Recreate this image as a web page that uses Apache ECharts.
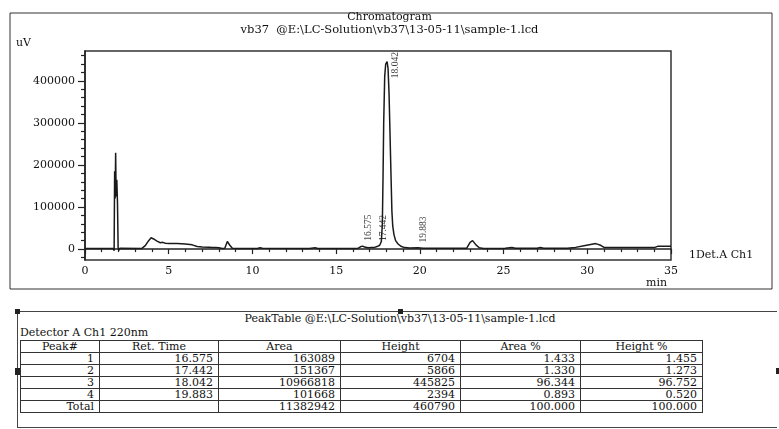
<!DOCTYPE html>
<html>
<head>
<meta charset="utf-8">
<script src="https://cdn.jsdelivr.net/npm/echarts@6/dist/echarts.min.js"></script>
<style>
  html, body { margin: 0; padding: 0; background: #fff; }
  #page { position: relative; width: 779px; height: 429px; overflow: hidden; color: #111; font-family: 'DejaVu Serif', serif; }
  #chart { position: absolute; left: 0; top: 0; width: 779px; height: 300px; }
  #tableBox { position: absolute; left: 17px; top: 311px; width: 759px; height: 115px;
    border-top: 1.5px solid #444; border-left: 1.5px solid #444; border-bottom: 1.5px solid #444; }
  #tableTitle { position: absolute; left: 0; width: 800px; top: 312px; text-align: center; font-size: 11px; line-height: 13px; }
  #detector { position: absolute; left: 20px; top: 326px; font-size: 11px; line-height: 13px; }
  #ptable { position: absolute; left: 20px; top: 340px; width: 682px; border-collapse: collapse; table-layout: fixed; font-size: 11px; }
  #ptable th, #ptable td { border: 1.5px solid #333; padding: 0 5px 0 0; line-height: 11px; height: 11px; text-align: right; font-weight: normal; white-space: nowrap; }
  #ptable th { text-align: center; padding: 0; height: 9px; }
  .handle { position: absolute; width: 5px; height: 5px; background: #222; }
</style>
</head>
<body>
<div id="page">
  <div id="chart"></div>
  <div id="tableBox"></div>
  <div class="handle" style="left:15px;top:309px"></div>
  <div class="handle" style="left:398px;top:309px"></div>
  <div class="handle" style="left:15px;top:368px;width:6px;height:7px"></div>
  <div class="handle" style="left:776px;top:368px;width:3px;height:6px"></div>
  <div id="tableTitle"></div>
  <div id="detector">Detector A Ch1 220nm</div>
  <table id="ptable">
    <colgroup>
      <col style="width:79px"><col style="width:119px"><col style="width:122px">
      <col style="width:120px"><col style="width:120px"><col style="width:122px">
    </colgroup>
    <thead><tr id="headRow"></tr></thead>
    <tbody id="bodyRows"></tbody>
  </table>
</div>
<script>
// chromatogram trace (time in min, signal in uV)
const timeMin = [
  0.00, 1.70, 1.74, 1.77, 1.80, 1.83, 1.86, 1.90, 1.94, 1.98, 2.02, 2.08, 2.15,
  3.40, 3.60, 3.80, 3.95, 4.10, 4.30, 4.50, 4.65, 4.80, 5.00, 5.50, 6.00, 6.40, 6.70,
  7.00, 7.40, 7.60, 7.80, 8.00, 8.20, 8.35, 8.50, 8.56, 8.65, 8.80, 9.00,
  10.30, 10.45, 10.60, 10.70, 13.20, 13.30, 13.40, 13.75, 13.90,
  16.30, 16.45, 16.575, 16.70, 16.90, 17.10, 17.30, 17.442, 17.60, 17.70, 17.76, 17.80,
  17.84, 17.90, 17.96, 18.042, 18.10, 18.16, 18.22, 18.28, 18.33, 18.38, 18.45, 18.55,
  18.70, 18.90, 19.10, 19.40, 19.883, 20.20, 22.80, 23.00, 23.15, 23.35, 23.55, 23.80,
  24.80, 24.90, 25.10, 25.50, 25.70, 27.00, 27.20, 27.40, 28.80, 29.30, 29.80, 30.20,
  30.50, 30.80, 31.00, 31.50, 34.00, 34.20, 35.00
];
const signalUv = [
  1500, 1500, -4000, 185000, 120000, 229000, 125000, 165000, 110000, 2000, -3000, 2000, 1500,
  1500, 8000, 20000, 27000, 24000, 19000, 15000, 16000, 14000, 13500, 13000, 12000, 10000, 6000,
  5000, 4500, 3500, 4000, 3000, 1500, 2000, 18000, 20000, 9000, 2000, 1500,
  1500, 3000, 2000, 1500, 1500, 3000, 1500, 3000, 1500,
  1500, 5500, 7000, 5000, 3000, 3500, 4000, 5900, 9000, 18000, 60000, 170000,
  300000, 410000, 440000, 446000, 430000, 370000, 270000, 170000, 90000, 55000, 35000, 20000,
  12000, 6000, 3500, 2500, 3000, 2000, 2000, 16000, 20000, 10000, 3000, 1500,
  1500, 3000, 2000, 3500, 2000, 2000, 3500, 2000, 2000, 4000, 8000, 11000,
  13000, 9000, 4000, 3500, 3500, 6500, 6500
];

// peak table
const peakNo = [1, 2, 3, 4];
const peakRetTime = [16.575, 17.442, 18.042, 19.883];
const peakArea = [163089, 151367, 10966818, 101668];
const peakHeight = [6704, 5866, 445825, 2394];
const peakAreaPct = [1.433, 1.330, 96.344, 0.893];
const peakHeightPct = [1.455, 1.273, 96.752, 0.520];
const totalArea = 11382942;
const totalHeight = 460790;
const totalAreaPct = 100.000;
const totalHeightPct = 100.000;
const tableHeaders = ['Peak#', 'Ret. Time', 'Area', 'Height', 'Area %', 'Height %'];

// axis ticks
const xMin = 0, xMax = 35, xStep = 5;
const yMin = -26000, yMax = 471000;
const yMajorTicks = [0, 100000, 200000, 300000, 400000];
const yMinorTicks = [-20000, 20000, 40000, 60000, 80000, 120000, 140000, 160000, 180000,
  220000, 240000, 260000, 280000, 320000, 340000, 360000, 380000, 420000, 440000, 460000];

const titleText = 'Chromatogram';
const fileText = 'vb37  @E:\\LC-Solution\\vb37\\13-05-11\\sample-1.lcd';
const tableTitleText = 'PeakTable  @E:\\LC-Solution\\vb37\\13-05-11\\sample-1.lcd';
const channelName = '1Det.A Ch1';

const FONT = 'DejaVu Serif';
const INK = '#111';

// ---- table ----
document.getElementById('tableTitle').textContent = tableTitleText;
document.getElementById('headRow').innerHTML = tableHeaders.map(h => '<th>' + h + '</th>').join('');
let rows = '';
peakNo.forEach((n, i) => {
  rows += '<tr><td>' + n + '</td><td>' + peakRetTime[i].toFixed(3) + '</td><td>' + peakArea[i] +
    '</td><td>' + peakHeight[i] + '</td><td>' + peakAreaPct[i].toFixed(3) + '</td><td>' +
    peakHeightPct[i].toFixed(3) + '</td></tr>';
});
rows += '<tr><td>Total</td><td></td><td>' + totalArea + '</td><td>' + totalHeight + '</td><td>' +
  totalAreaPct.toFixed(3) + '</td><td>' + totalHeightPct.toFixed(3) + '</td></tr>';
document.getElementById('bodyRows').innerHTML = rows;

// ---- chart ----
const chart = echarts.init(document.getElementById('chart'), null, { renderer: 'canvas' });

const traceData = timeMin.map((t, i) => [t, signalUv[i]]);
const peakLabelData = peakRetTime.map((t, i) => {
  const item = { value: [t, peakHeight[i]] };
  // tall peak: label hangs down beside the apex so it stays inside the frame
  if (peakHeight[i] > 0.85 * yMax) {
    item.label = { align: 'right', offset: [9, 8] };
  }
  return item;
});

const tickAxisBase = {
  type: 'value',
  min: yMin,
  max: yMax,
  position: 'left',
  splitLine: { show: false }
};

const option = {
  animation: false,
  backgroundColor: '#fff',
  title: {
    text: titleText,
    subtext: fileText,
    left: 'center',
    top: 7,
    itemGap: 1,
    textStyle: { fontFamily: FONT, fontSize: 11, fontWeight: 'normal', color: INK },
    subtextStyle: { fontFamily: FONT, fontSize: 11.5, color: INK }
  },
  grid: {
    left: 85,
    right: 108,
    top: 51,
    bottom: 40,
    show: true,
    borderColor: '#333',
    borderWidth: 1.5,
    backgroundColor: 'transparent'
  },
  xAxis: {
    type: 'value',
    min: xMin,
    max: xMax,
    interval: xStep,
    axisLine: { lineStyle: { color: '#222', width: 1.5 } },
    axisTick: { inside: false, length: 5, lineStyle: { color: '#222', width: 1.2 } },
    minorTick: { show: true, splitNumber: 5, length: 3, lineStyle: { color: '#222', width: 1.2 } },
    axisLabel: { color: INK, fontFamily: FONT, fontSize: 11, margin: 6 },
    splitLine: { show: false }
  },
  yAxis: [
    Object.assign({}, tickAxisBase, {
      axisLine: { show: true, lineStyle: { color: '#222', width: 1.5 } },
      axisTick: { show: true, length: 7, customValues: yMajorTicks, lineStyle: { color: '#222', width: 1.2 } },
      axisLabel: {
        color: INK, fontFamily: FONT, fontSize: 11, margin: 10,
        customValues: yMajorTicks,
        formatter: v => String(v)
      }
    }),
    Object.assign({}, tickAxisBase, {
      axisLine: { show: false },
      axisTick: { show: true, length: 4, customValues: yMinorTicks, lineStyle: { color: '#222', width: 1.2 } },
      axisLabel: { show: false }
    })
  ],
  graphic: [
    {
      type: 'rect',
      shape: { x: 10, y: 13, width: 762, height: 276 },
      style: { fill: 'none', stroke: '#555', lineWidth: 1.5 },
      silent: true
    },
    {
      type: 'text', left: 16, top: 38,
      style: { text: 'uV', font: '11px "DejaVu Serif"', fill: INK }
    },
    {
      type: 'text', left: 646, top: 278,
      style: { text: 'min', font: '11px "DejaVu Serif"', fill: INK }
    }
  ],
  series: [
    {
      name: channelName,
      type: 'line',
      data: traceData,
      showSymbol: false,
      symbol: 'none',
      lineStyle: { color: '#1a1a1a', width: 1.5 },
      endLabel: {
        show: true,
        formatter: channelName,
        color: INK,
        fontFamily: FONT,
        fontSize: 11,
        distance: 0,
        offset: [18, 9]
      }
    },
    {
      name: 'peaks',
      type: 'scatter',
      data: peakLabelData,
      symbol: 'circle',
      symbolSize: 1,
      itemStyle: { color: 'rgba(0,0,0,0)' },
      label: {
        show: true,
        position: 'top',
        distance: 0,
        rotate: 90,
        align: 'left',
        verticalAlign: 'middle',
        offset: [5, 6],
        color: INK,
        fontFamily: 'Liberation Serif',
        fontSize: 9.5,
        formatter: p => p.value[0].toFixed(3)
      }
    }
  ]
};

chart.setOption(option);

// short slanted lead from the end of the trace to the channel name
const endPt = chart.convertToPixel({ gridIndex: 0 }, traceData[traceData.length - 1]);
chart.setOption({
  graphic: [
    {
      type: 'line',
      shape: { x1: endPt[0], y1: endPt[1], x2: endPt[0] + 13, y2: endPt[1] + 6 },
      style: { stroke: '#333', lineWidth: 1 },
      silent: true
    }
  ]
});

window.addEventListener('resize', () => {
  chart.resize();
});
</script>
</body>
</html>
